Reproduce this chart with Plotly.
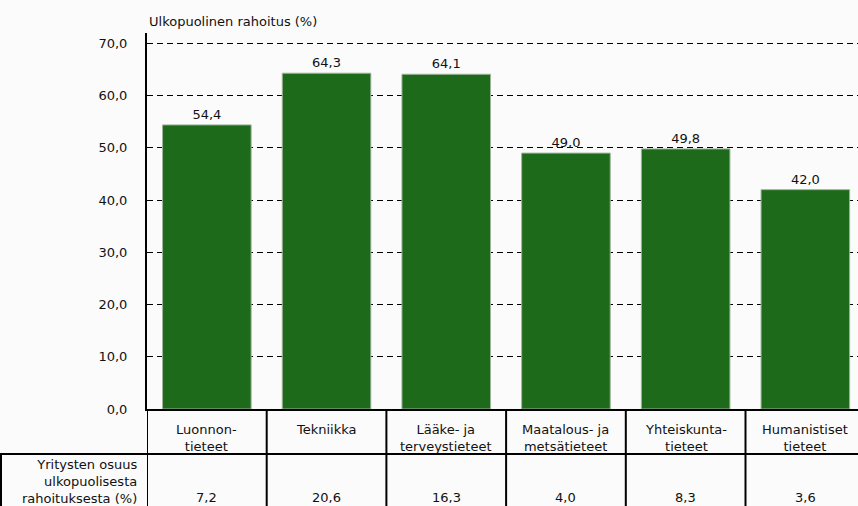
import plotly.graph_objects as go

categories = ["Luonnon-<br>tieteet", "Tekniikka", "Lääke- ja<br>terveystieteet",
              "Maatalous- ja<br>metsätieteet", "Yhteiskunta-<br>tieteet", "Humanistiset<br>tieteet"]
external_funding = [54.4, 64.3, 64.1, 49.0, 49.8, 42.0]
company_share = [7.2, 20.6, 16.3, 4.0, 8.3, 3.6]
row_label = "Yritysten osuus<br>ulkopuolisesta<br>rahoituksesta (%)"
y_title = "Ulkopuolinen rahoitus (%)"

W, H = 858, 506
L, R, T, B = 147, 0, 33, 97
PW, PH = W - L - R, H - T - B
FONT = "DejaVu Sans"
GREEN = "#1d6a1b"
TXT = "#111111"

def py(pix):  # pixel y (from top) -> paper y
    return (H - B - pix) / PH

def px(pix):  # pixel x -> paper x
    return (pix - L) / PW

n = len(categories)
xs = list(range(n))

fig = go.Figure()
fig.add_trace(go.Bar(
    x=xs, y=external_funding, marker=dict(color=GREEN, line=dict(color="#9db59b", width=1)),
    width=0.74, text=[f"{v:.1f}".replace(".", ",") for v in external_funding],
    textposition="outside", textfont=dict(family=FONT, size=13, color=TXT),
    cliponaxis=False, hoverinfo="skip"))

shapes = []
for i in range(n):
    shapes.append(dict(type="line", xref="x", yref="paper", x0=i - 0.5, x1=i - 0.5,
                       y0=0, y1=py(H), line=dict(color="black", width=2)))
shapes.append(dict(type="line", xref="paper", yref="paper", x0=px(0), x1=1,
                   y0=py(454), y1=py(454), line=dict(color="black", width=2)))
shapes.append(dict(type="line", xref="paper", yref="paper", x0=px(1), x1=px(1),
                   y0=py(454), y1=py(H), line=dict(color="black", width=2)))

annotations = []
for i, (c, v) in enumerate(zip(categories, company_share)):
    annotations.append(dict(x=i, y=py(420), xref="x", yref="paper", text=c, showarrow=False,
                            xanchor="center", yanchor="top",
                            font=dict(family=FONT, size=13, color=TXT), align="center"))
    annotations.append(dict(x=i, y=py(497), xref="x", yref="paper",
                            text=f"{v:.1f}".replace(".", ","), showarrow=False,
                            xanchor="center", yanchor="middle",
                            font=dict(family=FONT, size=13, color=TXT)))
annotations.append(dict(x=px(139), y=py(481), xref="paper", yref="paper", text=row_label,
                        showarrow=False, xanchor="right", yanchor="middle", align="right",
                        font=dict(family=FONT, size=13, color=TXT)))
annotations.append(dict(x=px(147), y=py(21), xref="paper", yref="paper", text=y_title,
                        showarrow=False, xanchor="left", yanchor="middle",
                        font=dict(family=FONT, size=13, color=TXT)))

fig.update_layout(
    width=W, height=H, margin=dict(l=L, r=R, t=T, b=B),
    paper_bgcolor="#fbfbfb", plot_bgcolor="#fbfbfb",
    separators=",.", showlegend=False, bargap=0.26,
    shapes=shapes, annotations=annotations,
    xaxis=dict(range=[-0.5, -0.5 + PW / 119.7], showticklabels=False, showgrid=False,
               zeroline=False, showline=True, linecolor="black", linewidth=2, ticks=""),
    yaxis=dict(range=[0, 72], tickvals=[0, 10, 20, 30, 40, 50, 60, 70], tickformat=".1f",
               showgrid=True, gridcolor="black", gridwidth=1, griddash="6px,4px",
               zeroline=False, showline=True, linecolor="black", linewidth=2,
               ticks="", ticklabelstandoff=15,
               tickfont=dict(family=FONT, size=13, color=TXT)),
)
fig.write_html("out.html", post_script="document.body.style.margin='0';",
               config={"displayModeBar": False})
